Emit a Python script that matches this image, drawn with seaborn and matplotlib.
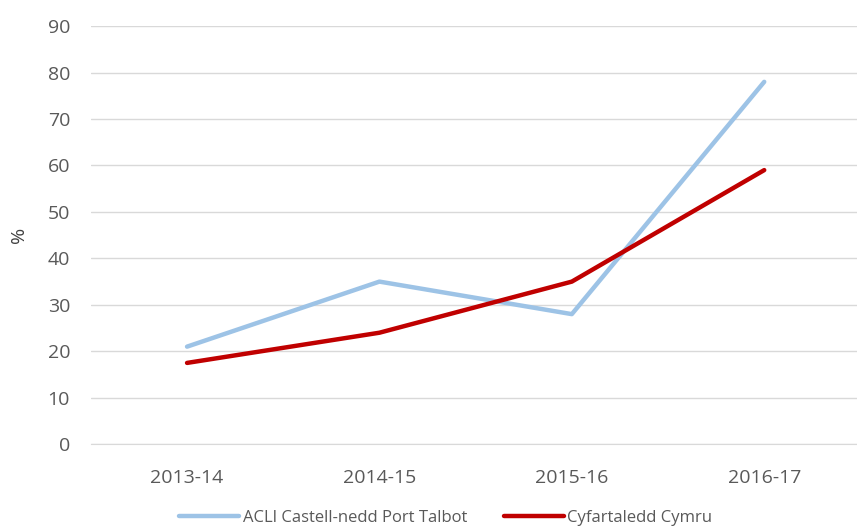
import matplotlib
matplotlib.use("Agg")
import matplotlib.pyplot as plt
import seaborn as sns
import pandas as pd

years = ["2013-14", "2014-15", "2015-16", "2016-17"]
acli_npt = [21, 35, 28, 78]
cymru = [17.5, 24, 35, 59]
series_names = ["ACLl Castell-nedd Port Talbot", "Cyfartaledd Cymru"]
yticks = [0, 10, 20, 30, 40, 50, 60, 70, 80, 90]

df = pd.DataFrame({
    "year": years * 2,
    "value": acli_npt + cymru,
    "series": [series_names[0]] * 4 + [series_names[1]] * 4,
})

sns.set_style("white")
plt.rcParams['font.family'] = ['Open Sans', 'DejaVu Sans']

fig = plt.figure(figsize=(8.57, 5.32), dpi=100)
ax = fig.add_axes([0.106, 0.165, 0.898, 0.786])

sns.lineplot(data=df, x="year", y="value", hue="series", sort=False,
             palette=["#9dc3e6", "#c00000"], linewidth=3.2, ax=ax,
             legend=True)

ax.set_xlim(-0.5, 3.5)
ax.set_ylim(0, 90)
ax.set_yticks(yticks)
ax.yaxis.grid(True, color="#d9d9d9", linewidth=1)
ax.set_axisbelow(True)
for s in ax.spines.values():
    s.set_visible(False)
ax.spines["bottom"].set_visible(True)
ax.spines["bottom"].set_color("#d9d9d9")
ax.tick_params(axis="y", colors="#595959", labelsize=14, length=0, pad=15)
ax.tick_params(axis="x", colors="#595959", labelsize=14, length=0, pad=18)
ax.set_xlabel("")
ax.set_ylabel("%", color="#404040", fontsize=14, labelpad=14)

handles, labels = ax.get_legend_handles_labels()
ax.legend_.remove()
fig.legend(handles, labels, loc="center", bbox_to_anchor=(0.52, 0.026),
           ncol=2, frameon=False, fontsize=12, handlelength=3.6,
           columnspacing=2.2, handletextpad=0.2, labelcolor="#595959")

fig.savefig("out.png", dpi=100)
